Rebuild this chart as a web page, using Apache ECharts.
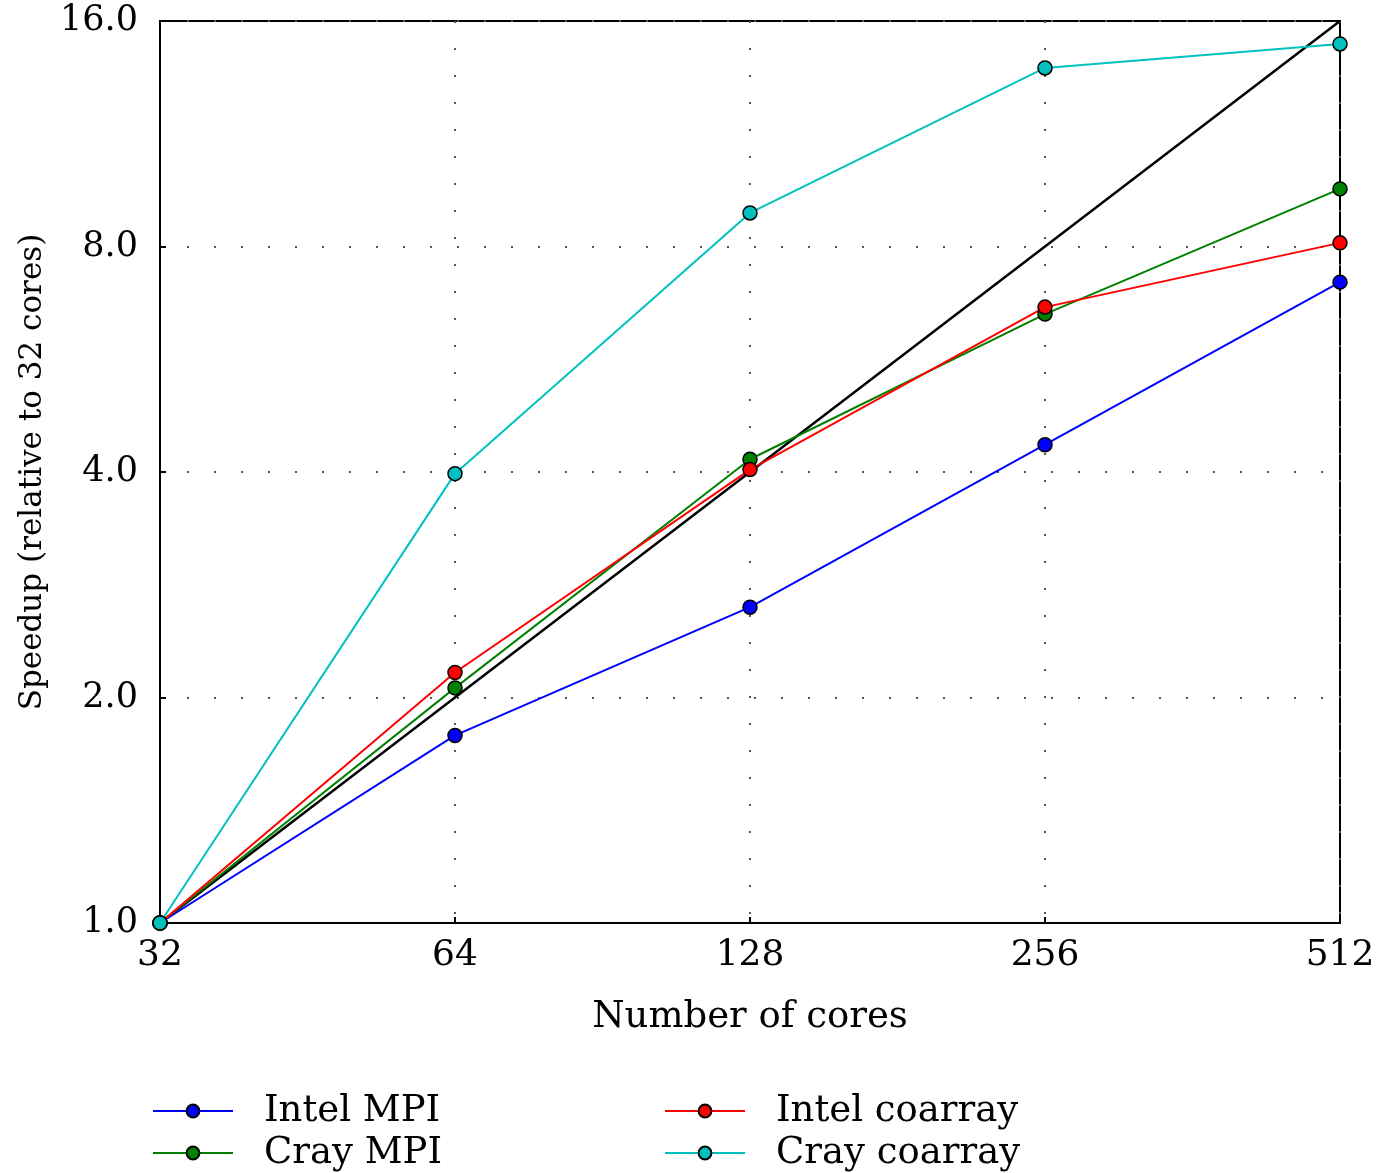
<!DOCTYPE html>
<html>
<head>
<meta charset="utf-8">
<script src="https://cdn.jsdelivr.net/npm/echarts@6/dist/echarts.min.js"></script>
<style>
html, body { margin: 0; padding: 0; background: #fff; }
#main { width: 1397px; height: 1173px; }
</style>
</head>
<body>
<div id="main"></div>
<script>
// cores and speedups
var cores = [32, 64, 128, 256, 512];
var ideal = [1, 2, 4, 8, 16];
var intelMpi = [1, 1.78, 2.64, 4.35, 7.17];
var intelCoarray = [1, 2.16, 4.03, 6.64, 8.09];
var crayMpi = [1, 2.06, 4.16, 6.50, 9.55];
var crayCoarray = [1, 3.98, 8.87, 13.85, 14.91];

var font = '"DejaVu Serif", "Liberation Serif", serif';

function pairs(v) {
	return cores.map(function(c, i) { return [c, v[i]]; });
}

function line(name, color, v) {
	return {
		name: name,
		type: 'line',
		data: pairs(v),
		symbol: 'circle',
		symbolSize: 14,
		lineStyle: { color: color, width: 2 },
		itemStyle: { color: color, borderColor: '#000', borderWidth: 1.5 },
		z: 3
	};
}

function legendAt(left, names) {
	return {
		data: names,
		orient: 'vertical',
		left: left,
		top: 1092,
		padding: 0,
		itemWidth: 80,
		itemHeight: 16,
		itemGap: 4,
		textStyle: { fontFamily: font, fontSize: 37, lineHeight: 38, color: '#000', padding: [0, 0, 0, 26] }
	};
}

var chart = echarts.init(document.getElementById('main'));
chart.setOption({
	animation: false,
	grid: {
		left: 160, right: 57, top: 21, bottom: 250,
		show: true, borderColor: '#000', borderWidth: 2, backgroundColor: 'transparent'
	},
	xAxis: {
		type: 'log',
		logBase: 2,
		min: 32,
		max: 512,
		name: 'Number of cores',
		nameLocation: 'middle',
		nameGap: 76,
		nameTextStyle: { fontFamily: font, fontSize: 37, color: '#000' },
		axisLine: { lineStyle: { color: '#000', width: 2 } },
		axisTick: { inside: true, length: 6, lineStyle: { color: '#000', width: 2 } },
		axisLabel: { fontFamily: font, fontSize: 36, color: '#000', margin: 15 },
		splitLine: { show: true, lineStyle: { color: '#555', type: [2, 25], width: 2 } }
	},
	yAxis: {
		type: 'log',
		logBase: 2,
		min: 1,
		max: 16,
		name: 'Speedup (relative to 32 cores)',
		nameLocation: 'middle',
		nameGap: 112,
		nameTextStyle: { fontFamily: font, fontSize: 31, color: '#000' },
		axisLine: { lineStyle: { color: '#000', width: 2 } },
		axisTick: { inside: true, length: 6, lineStyle: { color: '#000', width: 2 } },
		axisLabel: {
			fontFamily: font, fontSize: 35, color: '#000', margin: 22,
			formatter: function(v) { return v.toFixed(1); }
		},
		splitLine: { show: true, lineStyle: { color: '#555', type: [2, 25], width: 2 } }
	},
	legend: [
		legendAt(152, ['Intel MPI', 'Cray MPI']),
		legendAt(664, ['Intel coarray', 'Cray coarray'])
	],
	series: [
		{
			name: 'Ideal',
			type: 'line',
			data: pairs(ideal),
			symbol: 'none',
			lineStyle: { color: '#000', width: 2.5 },
			z: 2
		},
		line('Intel MPI', '#0000ff', intelMpi),
		line('Cray MPI', '#008000', crayMpi),
		line('Intel coarray', '#ff0000', intelCoarray),
		line('Cray coarray', '#00c0c0', crayCoarray)
	]
});
</script>
</body>
</html>
